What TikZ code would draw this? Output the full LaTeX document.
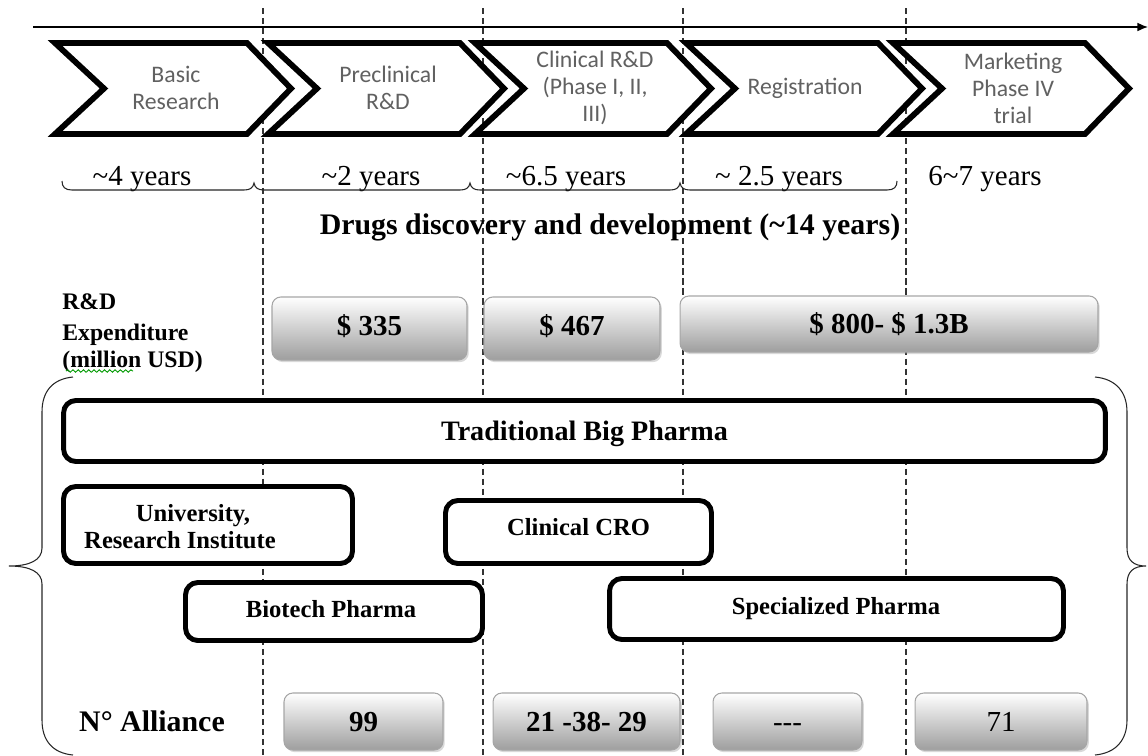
\documentclass[tikz,border=0pt]{standalone}
\usepackage{fontspec}
\setmainfont{Liberation Serif}
\newfontfamily\calib{Carlito}
\usetikzlibrary{arrows.meta,shadows,decorations.pathmorphing}
\newcommand\mychev[1]{\draw[chev] (#1+3,43) -- (#1+195,43) -- (#1+239,88.5) -- (#1+195,134) -- (#1+3,134) -- (#1+52,88.5) -- cycle;}
\begin{document}
\begin{tikzpicture}[x=0.02cm,y=-0.02cm,
 chev/.style={draw=black,line width=3.3pt,fill=white,line join=miter,
   drop shadow={opacity=0.3,shadow xshift=1pt,shadow yshift=-1pt}},
 chevtext/.style={font=\calib\fontsize{13.5}{15.4}\selectfont,text=black!62,align=center},
 period/.style={font=\fontsize{16.5}{18}\selectfont,anchor=base},
 lbl/.style={font=\bfseries\fontsize{13.5}{16}\selectfont,anchor=base west,inner sep=0pt},
 orgbox/.style={draw=black,line width=2.8pt,rounded corners=7pt,fill=white,inner sep=0pt},
 orgtext/.style={font=\bfseries\fontsize{14}{16}\selectfont,anchor=base,inner sep=0pt},
 gradbox/.style={draw=black!35,line width=0.6pt,rounded corners=5pt,top color=white,
   bottom color=black!38,drop shadow={opacity=0.3,shadow xshift=1pt,shadow yshift=-1.2pt},inner sep=0pt},
 gtext/.style={font=\bfseries\fontsize{16.5}{18}\selectfont,anchor=base,inner sep=0pt},
 vline/.style={black!80,line width=0.8pt,dash pattern=on 3.5pt off 2.2pt},
 brace/.style={black!85,line width=0.6pt},
 ]
\useasboundingbox (0,0) rectangle (1148,755);
% vertical dashed lines
\foreach \x in {263,483,683,906} \draw[vline] (\x,8) -- (\x,755);
% time axis
\coordinate (tl) at (33,27);
\coordinate (tr) at (1148,27);
\draw[line width=0.8pt,-{Latex[length=6pt,width=5pt]}] (tl) -- (tr);
% chevrons
\mychev{890}
\mychev{683}
\mychev{472}
\mychev{265}
\mychev{52}
\node[chevtext] (s1) at (176,88) {Basic\\Research};
\node[chevtext] (s2) at (388,88) {Preclinical\\R\&D};
\node[chevtext] (s3) at (595,88) {Clinical R\&D\\(Phase I, II,\\III)};
\node[chevtext] (s4) at (805,88) {Registration};
\node[chevtext] (s5) at (1013,88) {Marketing\\Phase IV\\trial};
% periods
\node[period] (t1) at (142,185) {\textasciitilde4 years};
\node[period] (t2) at (371,185) {\textasciitilde2 years};
\node[period] (t3) at (566,185) {\textasciitilde6.5 years};
\node[period] (t4) at (779,185) {\textasciitilde\ 2.5 years};
\node[period] (t5) at (985,185) {6\textasciitilde7 years};
\draw[brace] (62,181) .. controls (62,187) and (65,190) .. (72,190) -- (244,190)
  .. controls (250,190) and (253,188) .. (254,183) .. controls (255,188) and (258,190) .. (264,190)
  -- (460,190) .. controls (466,190) and (469,188) .. (470,183) .. controls (471,188) and (474,190) .. (480,190)
  -- (670,190) .. controls (676,190) and (679,188) .. (680,183) .. controls (681,188) and (684,190) .. (690,190)
  -- (887,190) .. controls (894,190) and (897,187) .. (897,181);
\node[font=\bfseries\fontsize{17}{19}\selectfont,anchor=base] (dd) at (610,234) {Drugs discovery and development (\textasciitilde14 years)};
% R&D expenditure
\node[lbl] (e1) at (62,309) {R\&D};
\node[lbl] (e2) at (62,340) {Expenditure};
\node[lbl] (e3) at (62,367) {(million USD)};
\draw[green!60!black,line width=0.5pt,decorate,decoration={snake,amplitude=0.7pt,segment length=3pt}] (66,371) -- (133,371);
\node[gradbox,minimum width=3.9cm,minimum height=1.26cm] (c1) at (369.5,328.5) {};
\node[gtext] (c1t) at (369.5,335) {\$ 335};
\node[gradbox,minimum width=3.52cm,minimum height=1.26cm] (c2) at (572,328.5) {};
\node[gtext] (c2t) at (572,335) {\$ 467};
\node[gradbox,minimum width=8.36cm,minimum height=1.12cm] (c3) at (889,324) {};
\node[gtext] (c3t) at (889,333) {\$ 800- \$ 1.3B};
% braces
\draw[brace] (73,377) .. controls (52,379) and (42,392) .. (42,412) -- (42,548)
  .. controls (42,560) and (30,566) .. (9,566) .. controls (30,566) and (42,572) .. (42,584)
  -- (42,720) .. controls (42,740) and (52,753) .. (73,755);
\draw[brace] (1095,377) .. controls (1116,379) and (1127,392) .. (1127,412) -- (1127,548)
  .. controls (1127,560) and (1133,566) .. (1146,566) .. controls (1133,566) and (1127,572) .. (1127,584)
  -- (1127,720) .. controls (1127,740) and (1116,753) .. (1095,755);
% organisations
\node[orgbox,minimum width=20.84cm,minimum height=1.22cm] (big) at (584.5,431) {};
\node[orgtext,font=\bfseries\fontsize{16}{18}\selectfont] (bigt) at (584.5,440) {Traditional Big Pharma};
\node[orgbox,minimum width=5.78cm,minimum height=1.54cm] (uni) at (208,525) {};
\node[orgtext] (unit1) at (193,521) {University,};
\node[orgtext] (unit2) at (180,548) {Research Institute};
\node[orgbox,minimum width=5.32cm,minimum height=1.26cm] (cro) at (578.5,532) {};
\node[orgtext] (crot) at (578.5,535) {Clinical CRO};
\node[orgbox,minimum width=5.94cm,minimum height=1.16cm] (bio) at (334,611.5) {};
\node[orgtext] (biot) at (331,617) {Biotech Pharma};
\node[orgbox,minimum width=9.08cm,minimum height=1.22cm] (spe) at (836.5,609) {};
\node[orgtext] (spet) at (836,614) {Specialized Pharma};
% alliances
\node[font=\bfseries\fontsize{17}{19}\selectfont,anchor=base] (na) at (152,731) {N° Alliance};
\node[gradbox,minimum width=3.18cm,minimum height=1.14cm] (a1) at (363.5,721.5) {};
\node[gtext] (a1t) at (363.5,731) {99};
\node[gradbox,minimum width=3.74cm,minimum height=1.14cm] (a2) at (586.5,721.5) {};
\node[gtext] (a2t) at (586.5,731) {21 -38- 29};
\node[gradbox,minimum width=2.98cm,minimum height=1.14cm] (a3) at (787.5,721.5) {};
\node[gtext,font=\fontsize{16.5}{18}\selectfont] (a3t) at (787.5,731) {-{}-{}-};
\node[gradbox,minimum width=3.44cm,minimum height=1.14cm] (a4) at (1001,721.5) {};
\node[gtext,font=\fontsize{16.5}{18}\selectfont] (a4t) at (1001,731) {71};
\end{tikzpicture}
\end{document}
